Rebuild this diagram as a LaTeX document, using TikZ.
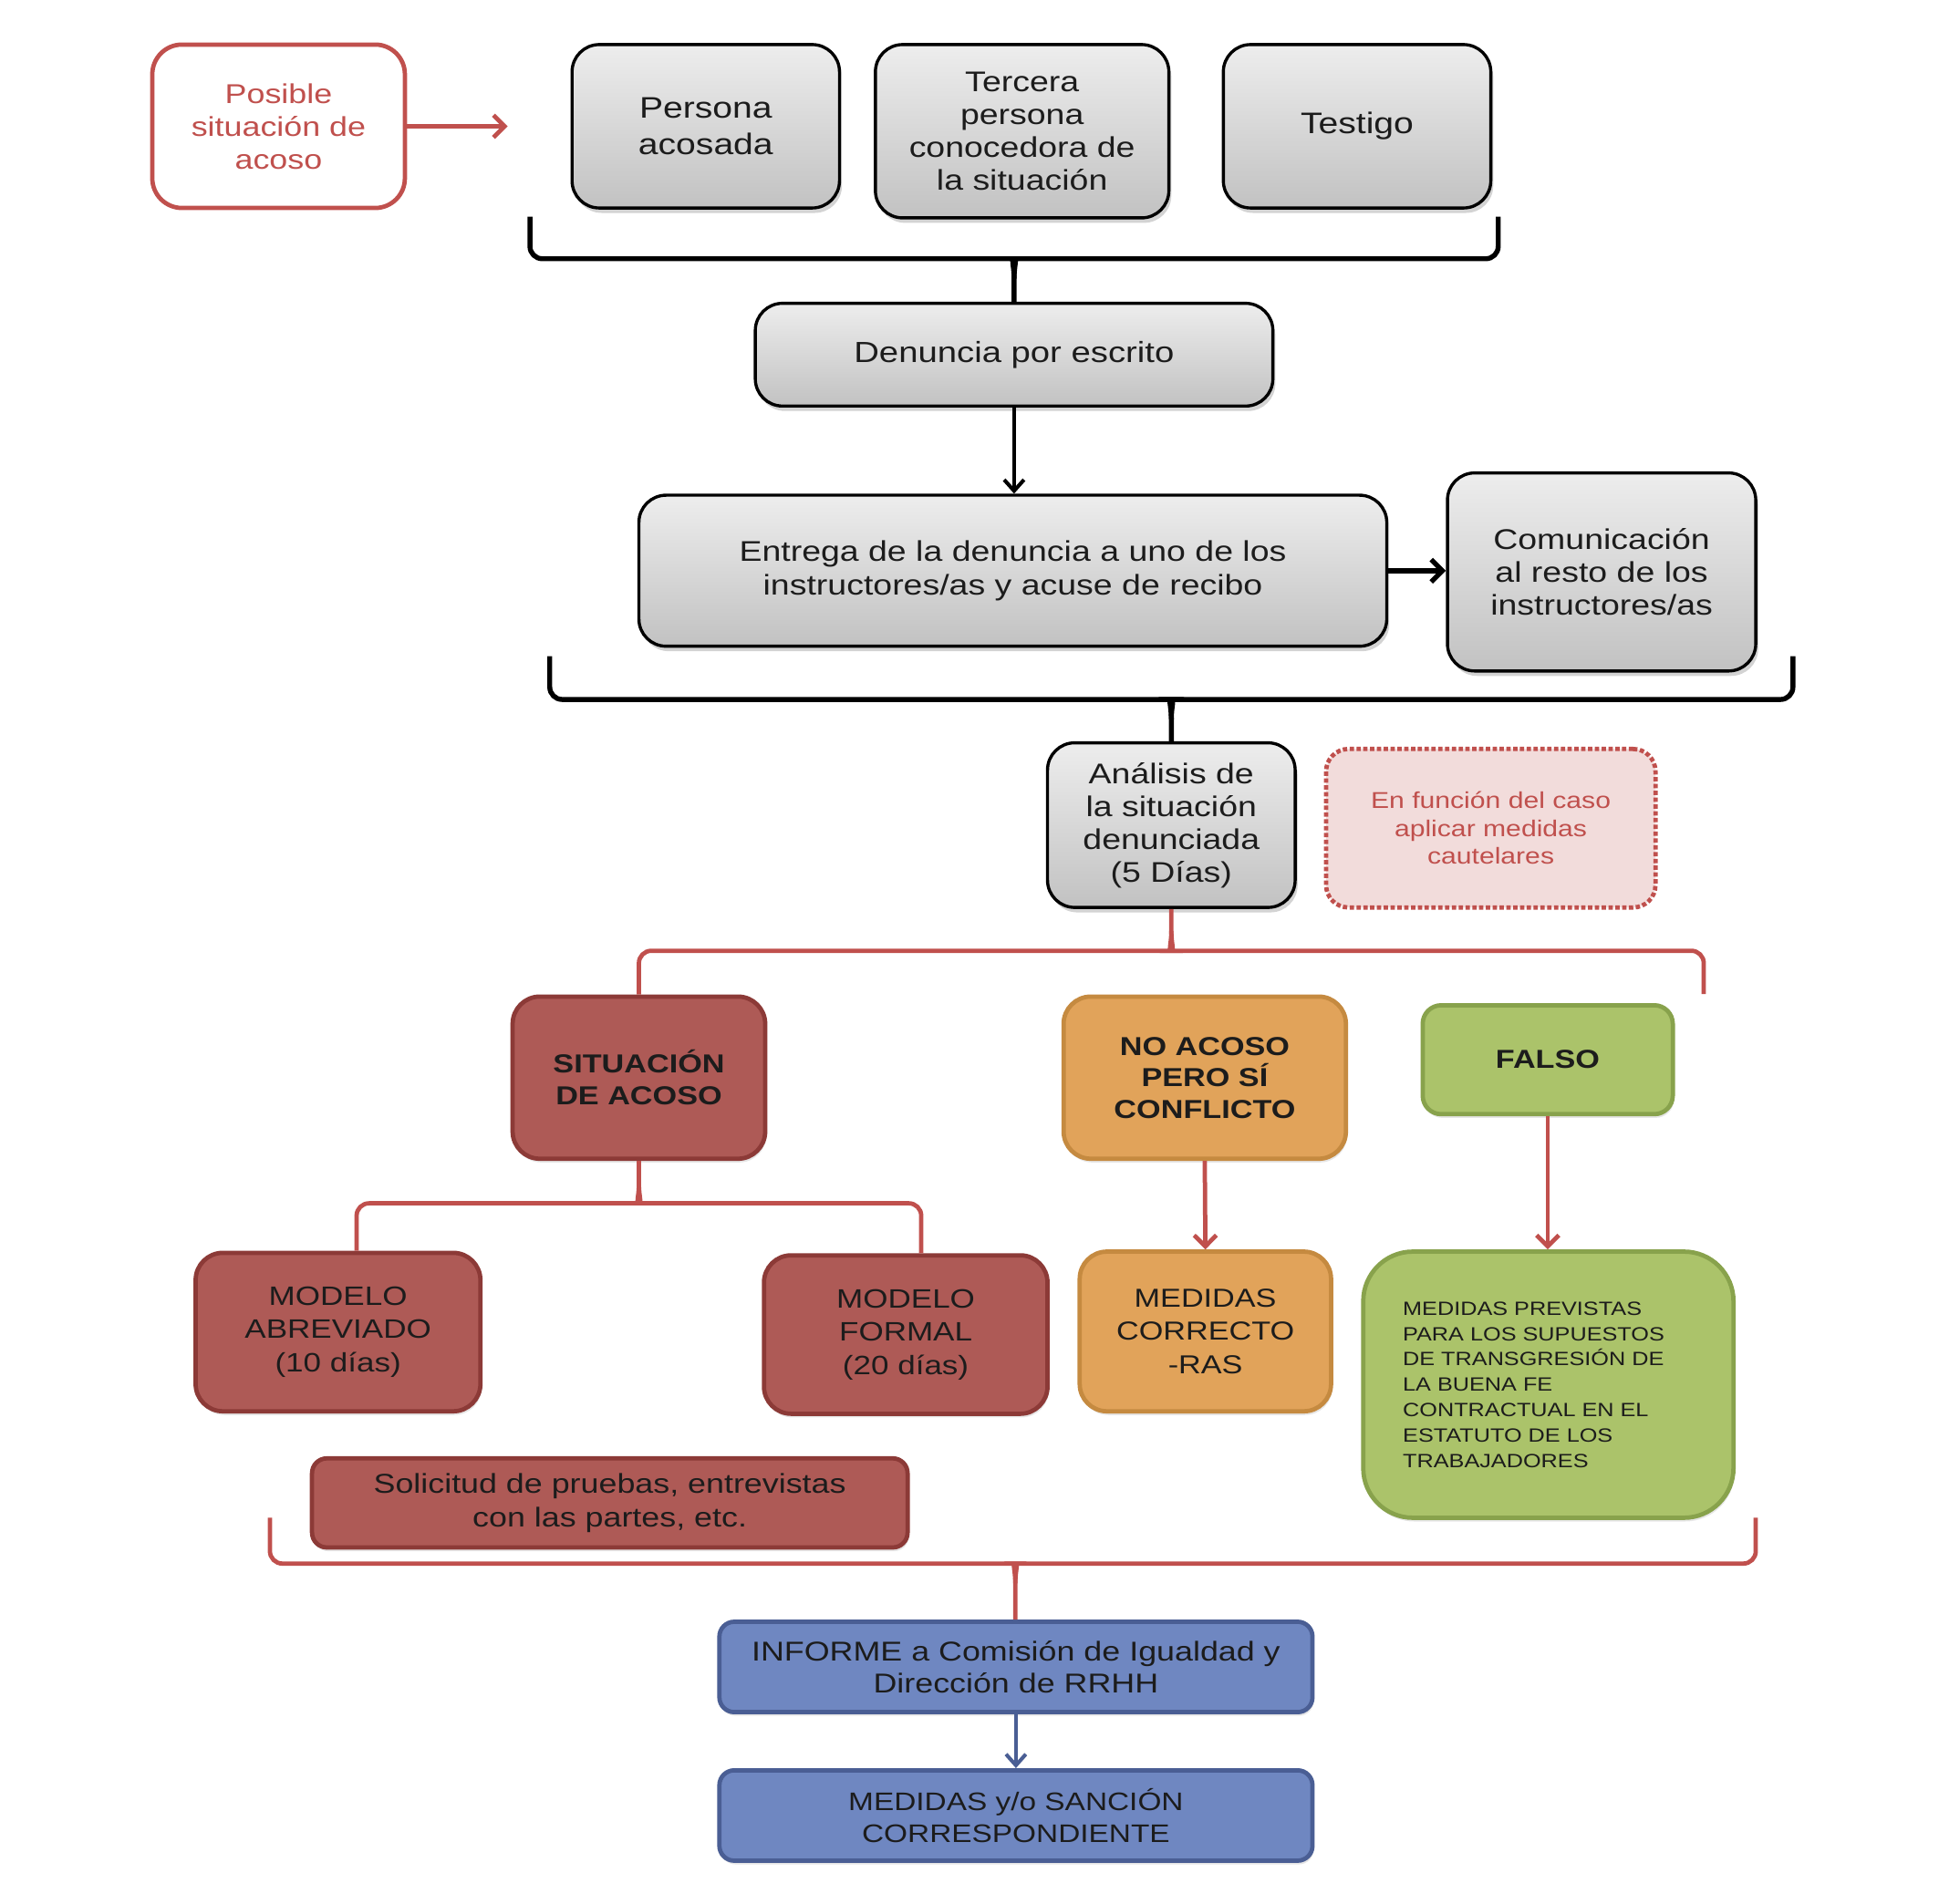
\documentclass[tikz,border=0pt]{standalone}
\usepackage{fontspec}
\setmainfont{Liberation Sans}[FakeStretch=1.2]
\usetikzlibrary{shadows,arrows.meta,calc}
\definecolor{redline}{HTML}{C0504D}
\definecolor{redfill}{HTML}{AE5A56}
\definecolor{redborder}{HTML}{8C3A37}
\definecolor{orfill}{HTML}{E1A35A}
\definecolor{orborder}{HTML}{C58A40}
\definecolor{grfill}{HTML}{ABC36A}
\definecolor{grborder}{HTML}{88A24C}
\definecolor{blfill}{HTML}{6F87C1}
\definecolor{blborder}{HTML}{4A5E94}
\definecolor{pinkfill}{HTML}{F2DCDB}
\definecolor{darktext}{HTML}{1C1C1C}
\begin{document}
\begin{tikzpicture}[x=1pt,y=-1pt,
  box/.style={align=center, inner sep=0pt, text=darktext},
  graybox/.style={box, draw=black, line width=2.5pt, rounded corners=22pt,
    top color=white!93!black, bottom color=white!76!black,
    drop shadow={shadow xshift=2pt, shadow yshift=-4pt, opacity=0.35}},
  redbox/.style={box, draw=redborder, fill=redfill, line width=3.5pt, rounded corners=22pt,
    drop shadow={shadow xshift=1pt, shadow yshift=-3pt, opacity=0.2}},
  orbox/.style={box, draw=orborder, fill=orfill, line width=3.5pt, rounded corners=22pt,
    drop shadow={shadow xshift=1pt, shadow yshift=-3pt, opacity=0.2}},
  grbox/.style={box, draw=grborder, fill=grfill, line width=3.5pt, rounded corners=18pt,
    drop shadow={shadow xshift=1pt, shadow yshift=-3pt, opacity=0.2}},
  blbox/.style={box, draw=blborder, fill=blfill, line width=3.5pt, rounded corners=12pt,
    drop shadow={shadow xshift=1pt, shadow yshift=-3pt, opacity=0.2}},
  blackbr/.style={draw=black, line width=4pt, rounded corners=10pt},
  redbr/.style={draw=redline, line width=3.5pt, rounded corners=10pt},
  blackarrow/.style={draw=black, line width=3pt, -{Straight Barb[length=9pt,width=16pt,line width=3pt]}},
  redarrow/.style={draw=redline, line width=3.5pt, -{Straight Barb[length=9pt,width=18pt,line width=3.5pt]}},
  bluearrow/.style={draw=blborder, line width=3pt, -{Straight Barb[length=9pt,width=16pt,line width=3pt]}},
  fs/.style 2 args={font=\fontsize{#1}{#2}\selectfont},
  fsb/.style 2 args={font=\bfseries\fontsize{#1}{#2}\selectfont}
]
\useasboundingbox (0,0) rectangle (1566,1537.3);

% top row
\node[box, draw=redline, line width=3.5pt, rounded corners=24pt, fill=white, text=redline,
  minimum width=204pt, minimum height=132pt, fs={22}{26.5}] (pos) at (225,102)
  {Posible\\situación de\\acoso};
\coordinate (posarrowend) at (410,102);
\draw[redarrow] (pos.east) -- (posarrowend);

\node[graybox, minimum width=216pt, minimum height=132pt, fs={24}{30}] (pa) at (570,102)
  {Persona\\acosada};
\node[graybox, minimum width=237pt, minimum height=140pt, fs={23}{26.5}] (tp) at (825.5,106)
  {Tercera\\persona\\conocedora de\\la situación};
\node[graybox, minimum width=216pt, minimum height=132pt, fs={24}{30}] (te) at (1096,102)
  {Testigo};

\node[graybox, minimum width=418pt, minimum height=83pt, fs={23.5}{27}] (de) at (819,286.5)
  {Denuncia por escrito};

% black bracket 1
\coordinate (b1l) at (428,175);
\coordinate (b1r) at (1210,175);
\draw[blackbr] (b1l) -- (428,209) -- (810,209) [sharp corners] .. controls (816,209) and (819,213) .. (819,225) -- (de.north);
\draw[blackbr] (b1r) -- (1210,209) -- (828,209) [sharp corners] .. controls (822,209) and (819,213) .. (819,225);

\node[graybox, minimum width=604pt, minimum height=122pt, fs={23}{27}] (en) at (818,461)
  {Entrega de la denuncia a uno de los\\instructores/as y acuse de recibo};
\draw[blackarrow] (de.south) -- (en.north -| de.south);

\node[graybox, minimum width=249pt, minimum height=160pt, fs={23}{26.5}] (co) at (1293.5,462)
  {Comunicación\\al resto de los\\instructores/as};
\draw[draw=black, line width=4.5pt, -{Straight Barb[length=9pt,width=18pt,line width=4pt]}] (en.east) -- (co.west |- en.east);

\node[graybox, minimum width=200pt, minimum height=133pt, fs={23}{26.5}] (an) at (946,666.5)
  {Análisis de\\la situación\\denunciada\\(5 Días)};

% black bracket 2
\coordinate (b2l) at (444,530);
\coordinate (b2r) at (1448,530);
\draw[blackbr] (b2l) -- (444,565) -- (937,565) [sharp corners] .. controls (943,565) and (946,569) .. (946,581) -- (an.north);
\draw[blackbr] (b2r) -- (1448,565) -- (955,565) [sharp corners] .. controls (949,565) and (946,569) .. (946,581);

\node[box, draw=redline, line width=3.5pt, dotted, rounded corners=18pt, fill=pinkfill, text=redline,
  minimum width=266pt, minimum height=128pt, fs={18.5}{22.5}] (dot) at (1204,669)
  {En función del caso\\aplicar medidas\\cautelares};

% second level
\node[redbox, minimum width=204pt, minimum height=131pt, fsb={21}{26}] (sit) at (516,870.5)
  {SITUACIÓN\\DE ACOSO};
\node[orbox, minimum width=228pt, minimum height=131pt, fsb={21}{25.5}] (noa) at (973,870.5)
  {NO ACOSO\\PERO SÍ\\CONFLICTO};
\node[grbox, rounded corners=15pt, minimum width=202pt, minimum height=88pt, fsb={21}{26}] (fal) at (1250,856)
  {FALSO};

% red bracket 1
\coordinate (r1r) at (1376,803);
\draw[redbr] (sit.north) -- (516,768) -- (937,768) [sharp corners] .. controls (943,768) and (946,764) .. (946,752) -- (an.south);
\draw[redbr] (r1r) -- (1376,768) -- (955,768) [sharp corners] .. controls (949,768) and (946,764) .. (946,752);

% third level
\node[redbox, minimum width=230pt, minimum height=128pt, fs={21.5}{27}] (ma) at (273,1076)
  {MODELO\\ABREVIADO\\(10 días)};
\node[redbox, minimum width=229pt, minimum height=128pt, fs={21.5}{27}] (mf) at (731.5,1078)
  {MODELO\\FORMAL\\(20 días)};
\node[orbox, minimum width=203pt, minimum height=129pt, fs={21}{27}] (mc) at (973.5,1075.5)
  {MEDIDAS\\CORRECTO\\-RAS};
\node[grbox, rounded corners=40pt, minimum height=215pt, text width=235pt, inner xsep=32pt, align=left,
  fs={15.5}{20.5}] (gr) at (1250.5,1118.5)
  {MEDIDAS PREVISTAS\\PARA LOS SUPUESTOS\\DE TRANSGRESIÓN DE\\LA BUENA FE\\CONTRACTUAL EN EL\\ESTATUTO DE LOS\\TRABAJADORES};

% red bracket 2
\draw[redbr] ([xshift=15pt]ma.north) -- (288,972) -- (507,972) [sharp corners] .. controls (513,972) and (516,968) .. (516,956) -- (sit.south);
\draw[redbr] ([xshift=12.5pt]mf.north) -- (744,972) -- (525,972) [sharp corners] .. controls (519,972) and (516,968) .. (516,956);

\draw[redarrow] (noa.south) -- (mc.north);
\draw[redarrow] (fal.south) -- (gr.north -| fal.south);

\node[redbox, rounded corners=12pt, minimum width=481pt, minimum height=72pt, fs={22}{27}] (sol) at (492.5,1214)
  {Solicitud de pruebas, entrevistas\\con las partes, etc.};

% bottom
\node[blbox, minimum width=479pt, minimum height=73pt, fs={22}{26}] (inf) at (820.5,1346.5)
  {INFORME a Comisión de Igualdad y\\Dirección de RRHH};
\node[blbox, minimum width=479pt, minimum height=73pt, fs={20.5}{26}] (med) at (820.5,1466.5)
  {MEDIDAS y/o SANCIÓN\\CORRESPONDIENTE};

% red bracket 3
\coordinate (r3l) at (218,1226);
\coordinate (r3r) at (1418,1226);
\draw[redbr] (r3l) -- (218,1263) -- (811,1263) [sharp corners] .. controls (817,1263) and (820,1267) .. (820,1279) -- (inf.north -| 820,0);
\draw[redbr] (r3r) -- (1418,1263) -- (829,1263) [sharp corners] .. controls (823,1263) and (820,1267) .. (820,1279);

\draw[bluearrow] (inf.south) -- (med.north);
\end{tikzpicture}
\end{document}
